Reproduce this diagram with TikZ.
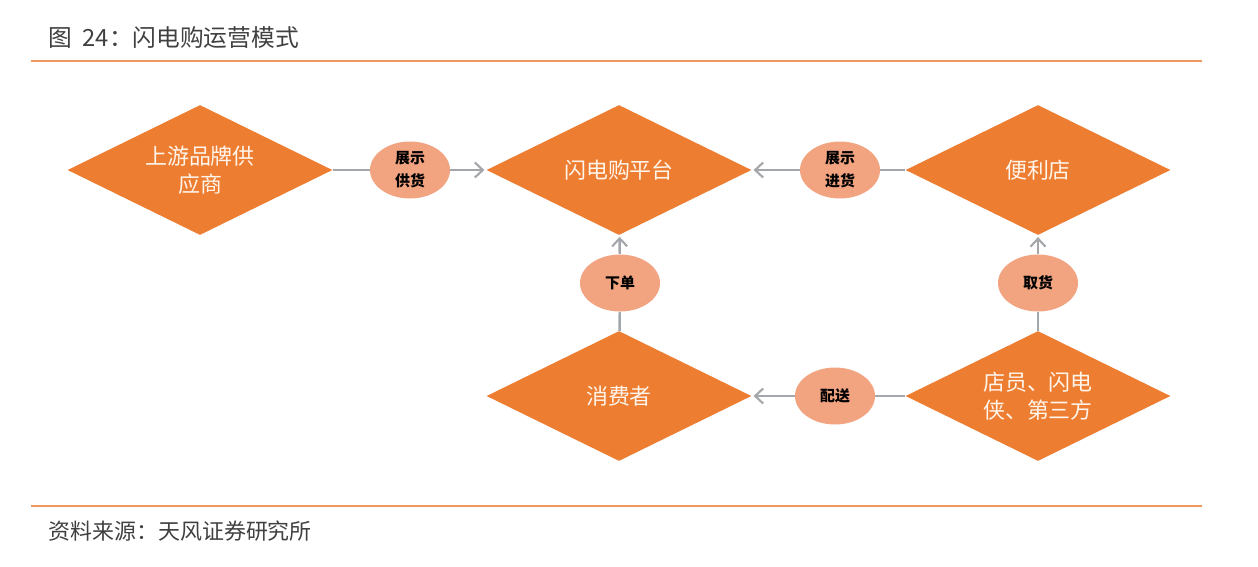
\documentclass[tikz,border=0pt]{standalone}
\usepackage{fontspec}
\setmainfont{Noto Sans CJK SC}
\usetikzlibrary{calc}
\usetikzlibrary{shapes}
\usetikzlibrary{positioning}
\usetikzlibrary{arrows.meta}

\definecolor{boxorange}{HTML}{ED7D31}
\definecolor{bubble}{HTML}{F2A481}
\definecolor{rulecol}{HTML}{EE9A5E}
\definecolor{linkgray}{HTML}{A3A6AA}
\definecolor{captext}{HTML}{404040}

\begin{document}
\begin{tikzpicture}[x=0.02cm, y=-0.02cm,
        every node/.style={inner sep=0pt},
        stage/.style={diamond, fill=boxorange, minimum width=5.3cm, minimum height=2.6cm, aspect=2,
            align=center, text=white!92!orange, font=\fontsize{12.5}{16}\selectfont},
        bubble/.style={ellipse, fill=bubble, minimum width=1.6cm, minimum height=1.14cm,
            align=center, font=\fontsize{8.5}{13}\selectfont\bfseries},
        link/.style={draw=linkgray, line width=1.4pt},
        flow/.style={link, -{Straight Barb[length=1.6mm, width=3mm, line width=1.2pt]}, shorten >=1pt},
        caption/.style={anchor=west, text=captext, font=\fontsize{12.5}{15}\selectfont}]
        \useasboundingbox (0,0) rectangle (1258,566);

        \node[caption, font=\fontsize{13.5}{15}\selectfont] (title) at (48,38) {图\hspace{0.45em}24：闪电购运营模式};
        \draw[rulecol, line width=0.9pt] (31,61) -- (1202,61);
        \draw[rulecol, line width=0.9pt] (31,506) -- (1202,506);
        \node[caption] (source) at (48,531) {资料来源：天风证券研究所};

        \node[stage] (supplier) at (200,170) {上游品牌供\\应商};
        \node[stage] (platform) at (619,170) {闪电购平台};
        \node[stage] (store) at (1038,170) {便利店};
        \node[stage] (consumer) at (619,396) {消费者};
        \node[stage] (courier) at (1038,396) {店员、闪电\\侠、第三方};

        \node[bubble] (showsupply) at (410,170) {展示\\供货};
        \node[bubble] (showstock) at (840,170) {展示\\进货};
        \node[bubble] (order) at (620,283) {下单};
        \node[bubble] (pickup) at (1038,283) {取货};
        \node[bubble] (deliver) at (835,396) {配送};

        \draw[link] (supplier) -- (showsupply);
        \draw[flow] (showsupply) -- (platform);
        \draw[link] (store) -- (showstock);
        \draw[flow] (showstock) -- (platform);
        \draw[link] (consumer) -- (order);
        \draw[flow] (order) -- (platform);
        \draw[link] (courier) -- (pickup);
        \draw[flow] (pickup) -- (store);
        \draw[link] (courier) -- (deliver);
        \draw[flow] (deliver) -- (consumer);
    \end{tikzpicture}
\end{document}
